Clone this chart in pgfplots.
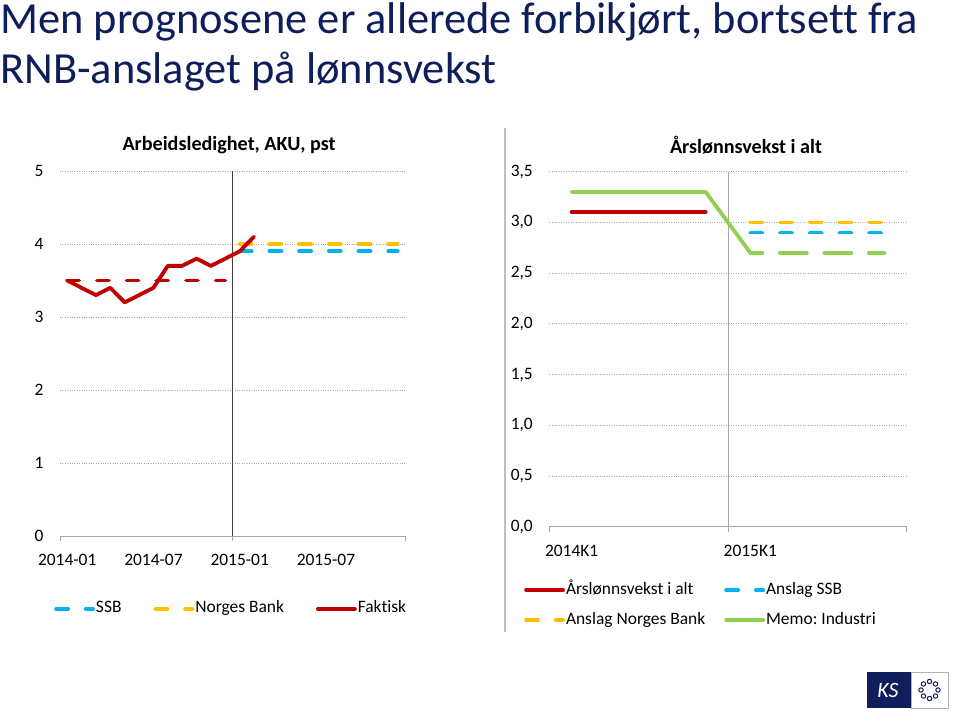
\documentclass[border=0pt]{standalone}
\usepackage{pgfplots}
\pgfplotsset{compat=1.18}
\usepackage{fontspec}
\setmainfont{Carlito}[Ligatures=NoCommon]
\frenchspacing
\definecolor{kred}{HTML}{C00000}
\definecolor{kblue}{HTML}{00B0F0}
\definecolor{kyellow}{HTML}{FFC000}
\definecolor{kgreen}{HTML}{92D050}
\definecolor{knavy}{HTML}{0F1E5A}
\pgfplotsset{
 mychart/.style={
  scale only axis,
  axis x line*=bottom, axis y line*=left,
  y axis line style={draw=none},
  x axis line style={draw=black!35, line width=0.9bp},
  major tick length=0pt,
  ymajorgrids, grid style={black!35, dotted, line width=0.7bp},
  tick label style={font=\fontsize{17.5}{21}\selectfont, text=black},
  /pgf/number format/assume math mode=true,
  clip=false,
  yticklabel style={xshift=-13bp},
  xticklabel style={yshift=-14.5bp},
  legend cell align=left,
  legend image code/.code={\draw[##1] (0bp,0bp) -- (37bp,0bp);},
  extra x tick labels={},
  extra x tick style={major tick length=5bp, tick align=outside, tick style={draw=black!35, line width=0.9bp}},
 },
 dashed series/.style={line width=3.8bp, line cap=round, dash pattern=on 12bp off 17.7bp},
 solid series/.style={line width=3.8bp, line cap=round, line join=round},
}
\begin{document}
\begin{tikzpicture}
\path[use as bounding box] (0,0) rectangle (960bp,722bp);
% main title
\node[anchor=base west, inner sep=0pt, text=knavy, font=\fontsize{44.6}{50}\selectfont] at (0bp,688.7bp) {Men prognosene er allerede forbikjørt, bortsett fra};
\node[anchor=base west, inner sep=0pt, text=knavy, font=\fontsize{44.6}{50}\selectfont] at (0bp,638.7bp) {RNB-anslaget på lønnsvekst};
% chart titles
\node[font=\bfseries\fontsize{20.2}{24}\selectfont] at (229bp,577bp) {Arbeidsledighet, AKU, pst};
\node[font=\bfseries\fontsize{20.2}{24}\selectfont] at (746bp,577bp) {Årslønnsvekst i alt};
% right chart frame line
\draw[black!25, line width=1.5bp] (505bp,594bp) -- (505bp,90bp);

% ---------- left chart ----------
\begin{axis}[mychart,
  at={(60bp,186bp)}, anchor=south west,
  width=345bp, height=365bp,
  xmin=-0.5, xmax=23.5, ymin=0, ymax=5,
  ytick={0,1,2,3,4,5},
  xtick={0,6,12,18},
  xticklabels={2014-01,2014-07,2015-01,2015-07},
  extra x ticks={-0.5,11.5,23.5},
  legend columns=3,
  legend style={at={(axis description cs:-0.0174,-0.2)}, anchor=west,
    draw=none, fill=none, inner sep=0pt,
    font=\fontsize{17.5}{21}\selectfont,
    nodes={inner sep=1bp, text height=12bp, text depth=4bp},
    /tikz/every even column/.append style={column sep=31bp}},
]
\addplot[black!75, line width=0.9bp, forget plot] coordinates {(11.5,0) (11.5,5)};
\addplot[kblue, dashed series] coordinates {(12,3.9) (23,3.9)};
\addlegendentry{SSB}
\addplot[kyellow, dashed series] coordinates {(12,4.0) (23,4.0)};
\addlegendentry{Norges Bank}
\addplot[kred, dashed series, forget plot] coordinates {(0,3.5) (11,3.5)};
\addplot[kred, solid series] coordinates {
 (0,3.5) (1,3.4) (2,3.3) (3,3.4) (4,3.2) (5,3.3) (6,3.4)
 (7,3.7) (8,3.7) (9,3.8) (10,3.7) (11,3.8) (12,3.9) (13,4.1)};
\addlegendentry{Faktisk}
\end{axis}

% ---------- right chart ----------
\begin{axis}[mychart,
  at={(549.3bp,195.3bp)}, anchor=south west,
  width=357.4bp, height=355bp,
  xmin=-0.5, xmax=7.5, ymin=0, ymax=3.5,
  ytick={0,0.5,1,1.5,2,2.5,3,3.5},
  yticklabel style={/pgf/number format/.cd, fixed, fixed zerofill, precision=1, use comma},
  xtick={0,4},
  xticklabels={2014K1,2015K1},
  extra x ticks={-0.5,3.5,7.5},
  legend columns=2,
  legend style={at={(axis description cs:-0.0708,-0.221)}, anchor=west,
    draw=none, fill=none, inner sep=0pt,
    font=\fontsize{17.5}{21}\selectfont,
    nodes={inner sep=1bp, text height=12bp, text depth=4bp},
    row sep=12bp,
    /tikz/every even column/.append style={column sep=18bp}},
]
\addplot[black!35, line width=0.9bp, forget plot] coordinates {(3.5,0) (3.5,3.5)};
\addplot[kred, solid series] coordinates {(0,3.1) (3,3.1)};
\addlegendentry{Årslønnsvekst i alt}
\addplot[kblue, dashed series] coordinates {(4,2.9) (7,2.9)};
\addlegendentry{Anslag SSB}
\addplot[kyellow, dashed series] coordinates {(4,3.0) (7,3.0)};
\addlegendentry{Anslag Norges Bank}
\addplot[kgreen, solid series] coordinates {(0,3.3) (3,3.3) (4,2.7)};
\addlegendentry{Memo: Industri}
\addplot[kgreen, line width=3.8bp, line cap=round, dash pattern=on 27bp off 17.5bp, dash phase=15bp, forget plot] coordinates {(4,2.7) (7,2.7)};
\end{axis}

% logo
\fill[knavy] (867bp,14bp) rectangle (911bp,50bp);
\draw[black!30, line width=0.6bp] (911bp,14bp) rectangle (948bp,50bp);
\node[text=white, font=\itshape\fontsize{22}{22}\selectfont, inner sep=0pt] at (888bp,32bp) {KS};
\foreach \a in {0,45,...,315} \draw[knavy, line width=1bp] ([shift={(\a:8.5bp)}]929.5bp,32bp) circle (2.2bp);
\end{tikzpicture}
\end{document}
